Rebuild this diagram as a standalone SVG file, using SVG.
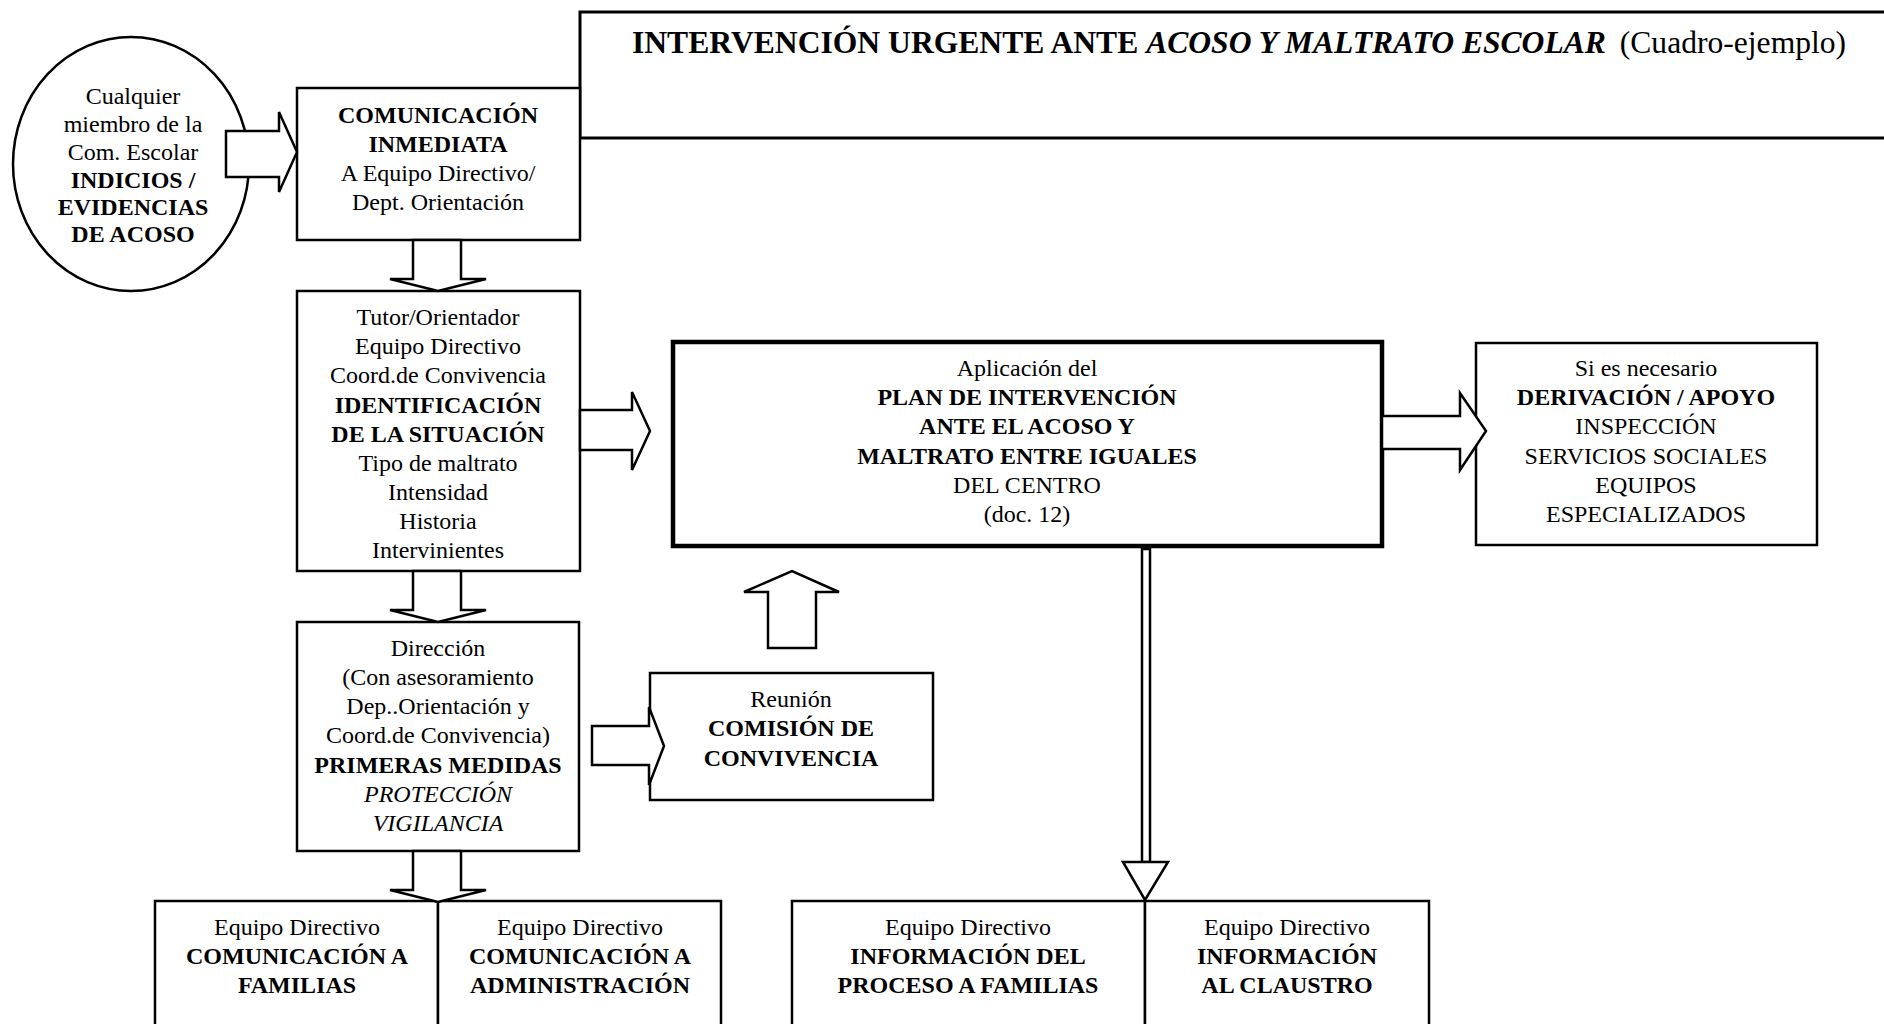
<svg xmlns="http://www.w3.org/2000/svg" width="1884" height="1024" viewBox="0 0 1884 1024">
<style>
.box{fill:#fff;stroke:#000;stroke-width:2.5}
.thick{stroke-width:4.5}
.arrow{fill:#fff;stroke:#000;stroke-width:2.5;stroke-linejoin:miter}
text{font-family:"Liberation Serif","Times New Roman",serif;font-size:24px;fill:#000;text-anchor:middle}
.b{font-weight:bold}
.i{font-style:italic}
</style>
<rect x="0" y="0" width="1884" height="1024" fill="#fff"/>
<g id="title">
<rect class="box" x="580" y="12" width="1330" height="126" style="stroke-width:3"/>
<text x="632" y="53" style="text-anchor:start;font-size:31.6px"><tspan class="b">INTERVENCIÓN URGENTE ANTE </tspan><tspan class="b i">ACOSO Y MALTRATO ESCOLAR</tspan><tspan dx="6"> (Cuadro-ejemplo)</tspan></text>
</g>
<g id="origen">
<ellipse class="box" cx="131" cy="164" rx="118" ry="127"/>
<text><tspan x="133" y="104">Cualquier</tspan><tspan x="133" y="132">miembro de la</tspan><tspan x="133" y="160">Com. Escolar</tspan><tspan class="b" x="133" y="188">INDICIOS /</tspan><tspan class="b" x="133" y="215">EVIDENCIAS</tspan><tspan class="b" x="133" y="242">DE ACOSO</tspan></text>
</g>
<g id="comunicacion">
<rect class="box" x="297" y="88" width="283" height="152"/>
<text><tspan class="b" x="438" y="123">COMUNICACIÓN</tspan><tspan class="b" x="438" y="152">INMEDIATA</tspan><tspan x="438" y="181">A Equipo Directivo/</tspan><tspan x="438" y="210">Dept. Orientación</tspan></text>
</g>
<g id="identificacion">
<rect class="box" x="297" y="291" width="283" height="280"/>
<text><tspan x="438" y="325">Tutor/Orientador</tspan><tspan x="438" y="354">Equipo Directivo</tspan><tspan x="438" y="383">Coord.de Convivencia</tspan><tspan class="b" x="438" y="413">IDENTIFICACIÓN</tspan><tspan class="b" x="438" y="442">DE LA SITUACIÓN</tspan><tspan x="438" y="471">Tipo de maltrato</tspan><tspan x="438" y="500">Intensidad</tspan><tspan x="438" y="529">Historia</tspan><tspan x="438" y="558">Intervinientes</tspan></text>
</g>
<g id="direccion">
<rect class="box" x="297" y="622" width="282" height="229"/>
<text><tspan x="438" y="656">Dirección</tspan><tspan x="438" y="685">(Con asesoramiento</tspan><tspan x="438" y="714">Dep..Orientación y</tspan><tspan x="438" y="743">Coord.de Convivencia)</tspan><tspan class="b" x="438" y="773">PRIMERAS MEDIDAS</tspan><tspan class="i" x="438" y="802">PROTECCIÓN</tspan><tspan class="i" x="438" y="831">VIGILANCIA</tspan></text>
</g>
<g id="plan">
<rect class="box thick" x="673" y="342" width="709" height="204"/>
<text><tspan x="1027" y="376">Aplicación del</tspan><tspan class="b" x="1027" y="405">PLAN DE INTERVENCIÓN</tspan><tspan class="b" x="1027" y="434">ANTE EL ACOSO Y</tspan><tspan class="b" x="1027" y="464">MALTRATO ENTRE IGUALES</tspan><tspan x="1027" y="493">DEL CENTRO</tspan><tspan x="1027" y="522">(doc. 12)</tspan></text>
</g>
<g id="derivacion">
<rect class="box" x="1476" y="343" width="341" height="202"/>
<text><tspan x="1646" y="376">Si es necesario</tspan><tspan class="b" x="1646" y="405">DERIVACIÓN / APOYO</tspan><tspan x="1646" y="434">INSPECCIÓN</tspan><tspan x="1646" y="464">SERVICIOS SOCIALES</tspan><tspan x="1646" y="493">EQUIPOS</tspan><tspan x="1646" y="522">ESPECIALIZADOS</tspan></text>
</g>
<g id="comision">
<rect class="box" x="650" y="673" width="283" height="127"/>
<text><tspan x="791" y="707">Reunión</tspan><tspan class="b" x="791" y="736">COMISIÓN DE</tspan><tspan class="b" x="791" y="766">CONVIVENCIA</tspan></text>
</g>
<g id="com-familias">
<rect class="box" x="155" y="901" width="283" height="140"/>
<text><tspan x="297" y="935">Equipo Directivo</tspan><tspan class="b" x="297" y="964">COMUNICACIÓN A</tspan><tspan class="b" x="297" y="993">FAMILIAS</tspan></text>
</g>
<g id="com-administracion">
<rect class="box" x="438" y="901" width="283" height="140"/>
<text><tspan x="580" y="935">Equipo Directivo</tspan><tspan class="b" x="580" y="964">COMUNICACIÓN A</tspan><tspan class="b" x="580" y="993">ADMINISTRACIÓN</tspan></text>
</g>
<g id="info-familias">
<rect class="box" x="792" y="901" width="353" height="140"/>
<text><tspan x="968" y="935">Equipo Directivo</tspan><tspan class="b" x="968" y="964">INFORMACIÓN DEL</tspan><tspan class="b" x="968" y="993">PROCESO A FAMILIAS</tspan></text>
</g>
<g id="info-claustro">
<rect class="box" x="1145" y="901" width="284" height="140"/>
<text><tspan x="1287" y="935">Equipo Directivo</tspan><tspan class="b" x="1287" y="964">INFORMACIÓN</tspan><tspan class="b" x="1287" y="993">AL CLAUSTRO</tspan></text>
</g>
<g id="connectors">
<polygon class="arrow" points="226,131 279,131 279,112 297,152 279,192 279,177 226,177"/>
<polygon class="arrow" points="413,240 413,279 390,279 438,291 486,279 461,279 461,240"/>
<polygon class="arrow" points="580,410 632,410 632,392 650,431 632,470 632,450 580,450"/>
<polygon class="arrow" points="413,571 413,610 390,610 438,622 486,610 461,610 461,571"/>
<polygon class="arrow" points="413,851 413,890 390,890 438,902 486,890 461,890 461,851"/>
<polygon class="arrow" points="1382,416 1460,416 1460,393 1486,431 1460,470 1460,449 1382,449"/>
<polygon class="arrow" points="592,726 649,726 649,707 664,746 649,785 649,765 592,765"/>
<polygon class="arrow" points="768,648 768,592 744,592 792,571 839,592 816,592 816,648"/>
<rect class="arrow" x="1142" y="549" width="8" height="313"/>
<polygon class="arrow" points="1123,862 1168,862 1145,900"/>
</g>
</svg>
